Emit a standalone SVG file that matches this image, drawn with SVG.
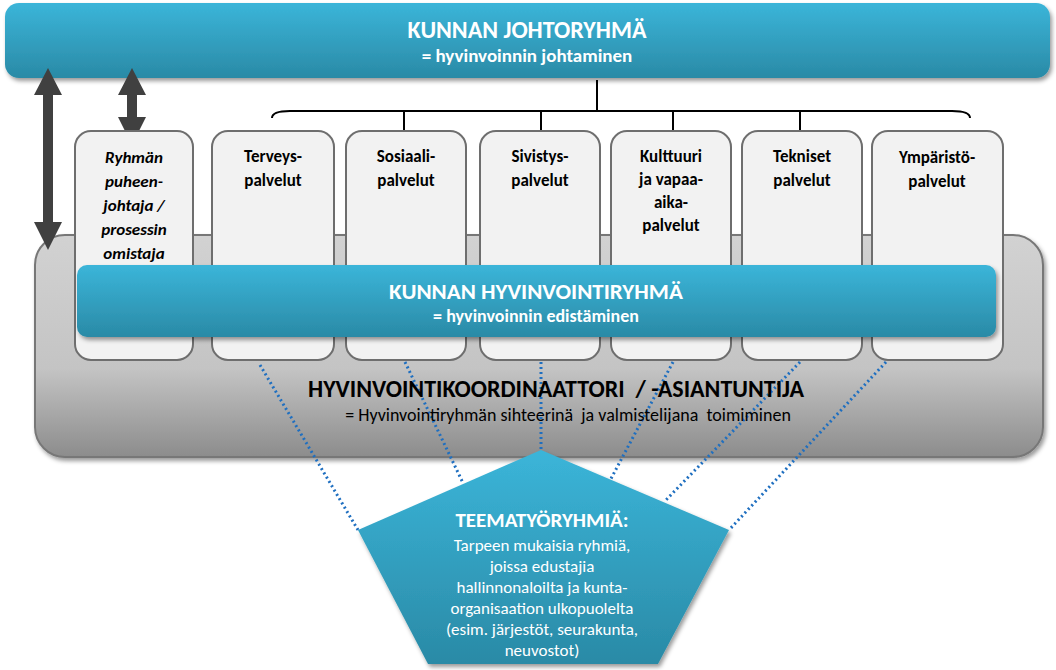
<svg xmlns="http://www.w3.org/2000/svg" width="1056" height="670" viewBox="0 0 1056 670">
<defs>
<linearGradient id="blue" x1="0" y1="0" x2="0" y2="1"><stop offset="0" stop-color="#3bb5d9"/><stop offset="1" stop-color="#2a8aa6"/></linearGradient>
<linearGradient id="gray" x1="0" y1="0" x2="0" y2="1"><stop offset="0" stop-color="#d2d2d2"/><stop offset="0.6" stop-color="#c4c4c4"/><stop offset="1" stop-color="#8c8c8c"/></linearGradient>
<filter id="sh" x="-5%" y="-5%" width="110%" height="120%"><feDropShadow dx="2" dy="3" stdDeviation="2" flood-opacity="0.4"/></filter>
</defs>
<style>
.col{fill:#f2f2f2;stroke:#6e6e6e;stroke-width:2}
.t{font-family:Calibri,"Liberation Sans",sans-serif;font-size:17px;font-weight:bold;fill:#000;text-anchor:middle}
.w{font-family:Calibri,"Liberation Sans",sans-serif;fill:#fff;font-weight:bold;text-anchor:middle}
.wn{font-family:Calibri,"Liberation Sans",sans-serif;fill:#fff;font-weight:normal;text-anchor:middle;font-size:17px}
.dot{stroke:#1f6fc0;stroke-width:3;stroke-dasharray:2 3;fill:none}
.arr{fill:#404040}
</style>
<rect width="1056" height="670" fill="#fff"/>
<g id="gray-panel"><rect x="35" y="235" width="1008" height="222" rx="30" fill="url(#gray)" stroke="#777" stroke-width="2" filter="url(#sh)"/></g>
<g id="top"><rect x="5" y="3" width="1045" height="75" rx="14" fill="url(#blue)" filter="url(#sh)"/>
<text class="w" x="527" y="38" font-size="24">KUNNAN JOHTORYHMÄ</text>
<text class="w" x="527" y="62" font-size="19">= hyvinvoinnin johtaminen</text></g>
<g id="connectors">
<path d="M272,118 Q272,111 290,111 L952,111 Q970,111 970,118 M597,111 V80 M404,111 V130 M541,111 V130 M673,111 V130 M800,111 V130" stroke="#000" stroke-width="2" fill="none"/>
<path class="arr" d="M48,68 L62,95 L53,95 L53,222 L62,222 L48,250 L34,222 L43,222 L43,95 L34,95 Z"/>
<path class="arr" d="M132,68 L146,95 L137,95 L137,117 L146,117 L132,145 L118,117 L127,117 L127,95 L118,95 Z"/>
<path class="dot" d="M260,365 L358,530 M405,362 L463,483 M541,362 L541,450 M673,362 L605,490 M800,362 L666,500 M886,362 L729,530"/>
</g>
<g id="columns">
<g id="c1"><rect class="col" x="75" y="131" width="118" height="229" rx="16"/><text class="t" font-style="italic" x="134" y="163">Ryhmän<tspan x="134" dy="24">puheen-</tspan><tspan x="134" dy="24">johtaja /</tspan><tspan x="134" dy="24">prosessin</tspan><tspan x="134" dy="24">omistaja</tspan></text></g>
<g id="c2"><rect class="col" x="212" y="131" width="122" height="229" rx="16"/><text class="t" x="273" y="162">Terveys-<tspan x="273" dy="24">palvelut</tspan></text></g>
<g id="c3"><rect class="col" x="346" y="131" width="120" height="229" rx="16"/><text class="t" x="406" y="162">Sosiaali-<tspan x="406" dy="24">palvelut</tspan></text></g>
<g id="c4"><rect class="col" x="480" y="131" width="120" height="229" rx="16"/><text class="t" x="540" y="162">Sivistys-<tspan x="540" dy="24">palvelut</tspan></text></g>
<g id="c5"><rect class="col" x="611" y="131" width="120" height="229" rx="16"/><text class="t" x="671" y="162">Kulttuuri<tspan x="671" dy="23">ja vapaa-</tspan><tspan x="671" dy="23">aika-</tspan><tspan x="671" dy="23">palvelut</tspan></text></g>
<g id="c6"><rect class="col" x="742" y="131" width="120" height="229" rx="16"/><text class="t" x="802" y="162">Tekniset<tspan x="802" dy="24">palvelut</tspan></text></g>
<g id="c7"><rect class="col" x="872" y="131" width="131" height="229" rx="16"/><text class="t" x="937" y="163">Ympäristö-<tspan x="937" dy="24">palvelut</tspan></text></g>
</g>
<g id="mid"><rect x="77" y="265" width="919" height="72" rx="10" fill="url(#blue)" filter="url(#sh)"/>
<text class="w" x="536" y="299" font-size="23">KUNNAN HYVINVOINTIRYHMÄ</text>
<text class="w" x="536" y="322" font-size="18">= hyvinvoinnin edistäminen</text></g>
<g id="coord">
<text x="556" y="397" font-family="Calibri,'Liberation Sans',sans-serif" font-size="24" font-weight="bold" text-anchor="middle" xml:space="preserve">HYVINVOINTIKOORDINAATTORI  / -ASIANTUNTIJA</text>
<text x="568" y="421" font-family="Calibri,'Liberation Sans',sans-serif" font-size="18" text-anchor="middle" xml:space="preserve">= Hyvinvointiryhmän sihteerinä  ja valmistelijana  toimiminen</text>
</g>
<g id="teema"><polygon points="541,450 729,530 658,664 428,664 358,530" fill="url(#blue)" filter="url(#sh)"/>
<text class="w" x="542" y="527" font-size="21">TEEMATYÖRYHMIÄ:</text>
<text class="wn" x="542" y="551">Tarpeen mukaisia ryhmiä,<tspan x="542" dy="21">joissa edustajia</tspan><tspan x="542" dy="21">hallinnonaloilta ja kunta-</tspan><tspan x="542" dy="21">organisaation ulkopuolelta</tspan><tspan x="542" dy="21">(esim. järjestöt, seurakunta,</tspan><tspan x="542" dy="21">neuvostot)</tspan></text></g>
</svg>
